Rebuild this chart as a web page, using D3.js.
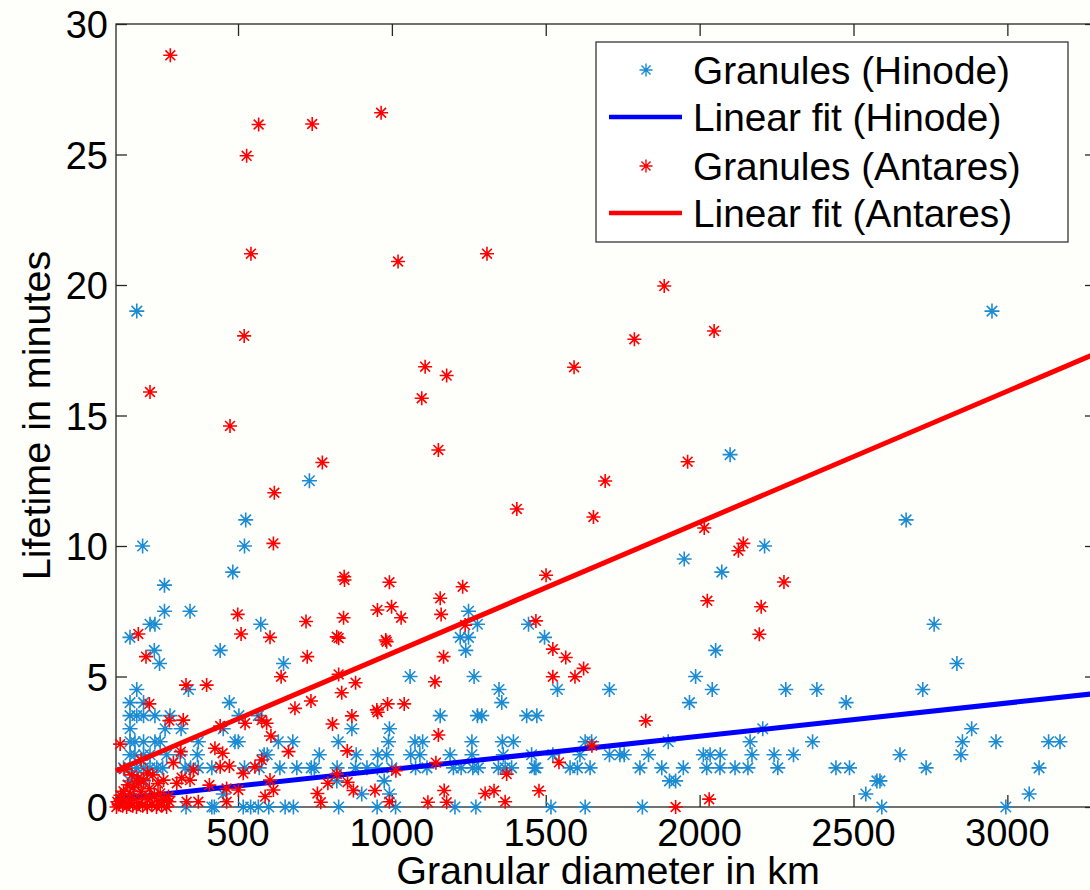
<!DOCTYPE html>
<meta charset="utf-8">
<style>
body { margin: 0; background: #fefefb; }
svg text { font-family: "Liberation Sans", Arial, sans-serif; fill: #000; }
</style>
<body>
<svg id="chart" width="1090" height="890"></svg>
<script src="https://d3js.org/d3.v7.min.js"></script>
<script>
// Hinode granules [diameter km, lifetime min]
var hinodePoints = [
  [171,19],[2950,19],[2099,13.5],[732,12.5],[2671,11],[525,11],[521,10],[190,10],[2211,10],[1950,9.5],
  [483,9],[2072,9],[261,8.5],[261,7.5],[344,7.5],[1249,7.5],[214,7],[230,7],[574,7],[1278,7],[1444,7],
  [2762,7],[149,6.5],[1222,6.5],[1249,6.5],[1496,6.5],[228,6],[442,6],[1240,6],[2052,6],[245,5.5],
  [648,5.5],[2836,5.5],[1059,5],[1267,5],[1987,5],
  [171,4.5],[339,4.5],[1348,4.5],[1538,4.5],[1707,4.5],[2041,4.5],[2280,4.5],[2381,4.5],[2725,4.5],
  [149,4],[193,4],[472,4],[1357,4],[1967,4],[2476,4],
  [149,3.5],[171,3.5],[193,3.5],[230,3.5],[279,3.5],[503,3.5],[566,3.5],[1157,3.5],[1278,3.5],[1292,3.5],
  [1438,3.5],[1471,3.5],
  [149,3],[263,3],[315,3],[452,3],[870,3],[992,3],[2205,3],[2884,3],
  [149,2.5],[165,2.5],[193,2.5],[230,2.5],[247,2.5],[371,2.5],[490,2.5],[501,2.5],[631,2.5],[678,2.5],
  [826,2.5],[989,2.5],[1075,2.5],[1100,2.5],[1260,2.5],[1359,2.5],[1395,2.5],[1628,2.5],[1649,2.5],
  [1898,2.5],[2164,2.5],[2367,2.5],[2854,2.5],[2963,2.5],[3134,2.5],[3171,2.5],
  [149,2],[165,2],[193,2],[214,2],[268,2],[312,2],[368,2],[585,2],[595,2],[764,2],[884,2],[954,2],
  [983,2],[1061,2],[1091,2],[1189,2],[1260,2],[1362,2],[1454,2],[1523,2],[1611,2],[1707,2],[1741,2],
  [1755,2],[1834,2],[2012,2],[2034,2],[2067,2],[2170,2],[2242,2],[2305,2],[2651,2],[2849,2],
  [128,1.5],[149,1.5],[171,1.5],[193,1.5],[214,1.5],[236,1.5],[255,1.5],[328,1.5],[346,1.5],[371,1.5],
  [415,1.5],[521,1.5],[569,1.5],[636,1.5],[691,1.5],[738,1.5],[748,1.5],[822,1.5],[882,1.5],[919,1.5],
  [953,1.5],[1000,1.5],[1077,1.5],[1114,1.5],[1200,1.5],[1225,1.5],[1263,1.5],[1281,1.5],[1346,1.5],
  [1368,1.5],[1389,1.5],[1463,1.5],[1468,1.5],[1579,1.5],[1603,1.5],[1644,1.5],[1806,1.5],[1877,1.5],
  [1947,1.5],[2023,1.5],[2066,1.5],[2115,1.5],[2157,1.5],[2254,1.5],[2443,1.5],[2487,1.5],[2736,1.5],
  [3103,1.5],
  [149,1],[171,1],[193,1],[821,1],[975,1],[1902,1],[1922,1],[2576,1],[2586,1],
  [149,0.5],[452,0.5],[902,0.5],[992,0.5],[2540,0.5],[3071,0.5],
  [331,0],[415,0],[423,0],[517,0],[541,0],[566,0],[600,0],[653,0],[680,0],[827,0],[952,0],[1012,0],
  [1205,0],[1273,0],[1517,0],[1628,0],[1814,0],[2592,0],[2995,0]
];

// Antares granules [diameter km, lifetime min]
var antaresPoints = [
  [280,28.8],[567,26.15],[741,26.17],[965,26.6],[528,24.95],[542,21.2],[1309,21.2],[1020,20.9],
  [1885,19.96],[2047,18.24],[520,18.05],[1788,17.92],[1108,16.87],[1592,16.85],[1178,16.53],[214,15.9],
  [1097,15.66],[474,14.6],[1151,13.68],[774,13.2],[1961,13.23],[1693,12.49],[618,12.04],[1406,11.42],
  [1655,11.11],[2015,10.69],[615,10.1],[2142,10.1],[2126,9.82],[1501,8.88],[845,8.82],[846,8.7],
  [2274,8.62],[992,8.61],[1230,8.44],[1157,8.0],[2025,7.9],[953,7.55],[999,7.67],[2200,7.67],
  [499,7.38],[1160,7.38],[843,7.25],[1030,7.25],[721,7.11],[1468,7.13],[1238,6.97],[176,6.63],
  [510,6.63],[2194,6.62],[604,6.5],[821,6.52],[827,6.47],[980,6.4],[983,6.33],[1523,6.05],[201,5.76],
  [725,5.76],[1168,5.76],[1565,5.73],[1623,5.31],[827,5.08],[640,4.99],[1523,4.99],[1595,4.99],
  [882,4.76],[1140,4.8],[331,4.67],[398,4.67],[837,4.38],[737,4.06],[212,3.95],[986,3.95],[1040,3.95],
  [685,3.78],[951,3.72],[954,3.63],[870,3.49],[277,3.31],[322,3.33],[577,3.33],[1825,3.3],[523,3.21],
  [593,3.21],[807,3.18],[442,3.1],[1151,2.76],[607,2.72],[117,2.41],[1650,2.35],[425,2.25],[855,2.15],
  [314,2.12],[664,2.12],[450,2.06],[577,1.8],[1143,1.7],[1543,1.71],[290,1.7],[442,1.54],[472,1.57],
  [555,1.54],[355,1.42],[1013,1.39],[517,1.29],[1373,1.26],[821,1.26],[223,1.23],[155,1.23],[317,1.12],
  [193,1.03],[258,1.03],[344,1.03],[604,1.03],[856,0.95],[792,0.91],[176,0.91],[301,0.91],[407,0.84],
  [463,0.71],[501,0.65],[615,0.65],[875,0.63],[945,0.63],[1170,0.63],[1332,0.62],[1478,0.62],
  [758,0.52],[1303,0.52],[247,0.52],[588,0.4],[274,0.4],[214,0.33],[2031,0.3],[769,0.18],[992,0.2],
  [1117,0.18],[1178,0.18],[1368,0.2],[371,0.2],[333,0.2],[463,0.2],[277,0.2],[1922,0],
  [105,0],[112,0.1],[120,0.3],[125,0.05],[132,0.2],[138,0],[145,0.15],[150,0.5],[158,0.05],[163,0.3],
  [170,0],[178,0.15],[185,0.6],[190,0.05],[198,0.35],[205,0],[212,0.7],[220,0.1],[228,0.45],[235,0],
  [243,0.2],[252,0.05],[260,0.25],[268,0],[128,0.6],[142,0.85],[160,0.75],[118,0.45],[175,1.1],
  [205,1.3],[240,0.9],[130,1.45],[185,1.8],[108,0.2]
];

// linear fits, values at the ends of the x range
var fitX = [103.5, 3288];
var hinodeFitY = [0.3, 4.35];
var antaresFitY = [1.39, 17.38];

var xTicks = [500, 1000, 1500, 2000, 2500, 3000];
var yTicks = [0, 5, 10, 15, 20, 25, 30];

var legendLabels = ["Granules (Hinode)", "Linear fit (Hinode)", "Granules (Antares)", "Linear fit (Antares)"];

var blueMark = "#1b8bd3", redMark = "#ff0000";

var svg = d3.select("#chart");
var pL = 116, pR = 1096, pT = 24, pB = 807;

var x = d3.scaleLinear().domain([103.5, 3288]).range([pL, pR]);
var y = d3.scaleLinear().domain([0, 30]).range([pB, pT]);

function asterisk(r) {
  var d = r * 0.7;
  return "M" + (-r) + ",0H" + r + "M0," + (-r) + "V" + r +
    "M" + (-d) + "," + (-d) + "L" + d + "," + d + "M" + (-d) + "," + d + "L" + d + "," + (-d);
}

var plot = svg.append("g");
var axisColor = "#262626";

function styleTicks(g) {
  g.select(".domain").remove();
  g.selectAll("line").attr("stroke", axisColor).attr("stroke-width", 1.3);
}

// axes box with inward ticks
plot.append("rect")
  .attr("x", pL).attr("y", pT)
  .attr("width", pR - pL).attr("height", pB - pT)
  .attr("fill", "none").attr("stroke", axisColor).attr("stroke-width", 1.3);

plot.append("g")
  .attr("transform", "translate(0," + pB + ")")
  .call(d3.axisBottom(x).tickValues(xTicks).tickSizeInner(-12).tickSizeOuter(0).tickFormat(""))
  .call(styleTicks);
plot.append("g")
  .attr("transform", "translate(0," + pT + ")")
  .call(d3.axisTop(x).tickValues(xTicks).tickSizeInner(-12).tickSizeOuter(0).tickFormat(""))
  .call(styleTicks);
plot.append("g")
  .attr("transform", "translate(" + pL + ",0)")
  .call(d3.axisLeft(y).tickValues(yTicks).tickSizeInner(-11).tickSizeOuter(0).tickFormat(""))
  .call(styleTicks);
plot.append("g")
  .attr("transform", "translate(" + pR + ",0)")
  .call(d3.axisRight(y).tickValues(yTicks).tickSizeInner(-11).tickSizeOuter(0).tickFormat(""))
  .call(styleTicks);

// tick labels
svg.append("g").selectAll("text")
  .data(xTicks).enter().append("text")
  .attr("x", function(d) { return x(d); })
  .attr("y", 846)
  .attr("text-anchor", "middle")
  .style("font-size", "38px")
  .text(function(d) { return d; });

svg.append("g").selectAll("text")
  .data(yTicks).enter().append("text")
  .attr("x", 108)
  .attr("y", function(d) { return y(d) + 14; })
  .attr("text-anchor", "end")
  .style("font-size", "38px")
  .text(function(d) { return d; });

// axis titles
svg.append("text")
  .attr("x", 608).attr("y", 884)
  .attr("text-anchor", "middle")
  .style("font-size", "39.5px")
  .text("Granular diameter in km");

svg.append("text")
  .attr("transform", "translate(50," + (pT + pB) / 2 + ") rotate(-90)")
  .attr("text-anchor", "middle")
  .style("font-size", "39.5px")
  .text("Lifetime in minutes");

// data
var line = d3.line().x(function(d) { return x(d[0]); }).y(function(d) { return y(d[1]); });

plot.append("g").selectAll("path")
  .data(hinodePoints).enter().append("path")
  .attr("transform", function(d) { return "translate(" + x(d[0]) + "," + y(d[1]) + ")"; })
  .attr("d", asterisk(7.5))
  .attr("fill", "none").attr("stroke", blueMark).attr("stroke-width", 1.6);

plot.append("path")
  .datum(fitX.map(function(v, i) { return [v, hinodeFitY[i]]; }))
  .attr("d", line)
  .attr("fill", "none").attr("stroke", "#0000ff").attr("stroke-width", 5);

plot.append("g").selectAll("path")
  .data(antaresPoints).enter().append("path")
  .attr("transform", function(d) { return "translate(" + x(d[0]) + "," + y(d[1]) + ")"; })
  .attr("d", asterisk(7))
  .attr("fill", "none").attr("stroke", redMark).attr("stroke-width", 1.6);

plot.append("path")
  .datum(fitX.map(function(v, i) { return [v, antaresFitY[i]]; }))
  .attr("d", line)
  .attr("fill", "none").attr("stroke", "#ff0000").attr("stroke-width", 5);

// legend
var lg = svg.append("g");
lg.append("rect")
  .attr("x", 596).attr("y", 42).attr("width", 472).attr("height", 200)
  .attr("fill", "#ffffff").attr("stroke", axisColor).attr("stroke-width", 1.2);

var rowY = [70, 117, 166, 213];
var legendColors = [blueMark, "#0000ff", redMark, "#ff0000"];
legendLabels.forEach(function(label, i) {
  if (i % 2 === 0) {
    lg.append("path")
      .attr("transform", "translate(646," + rowY[i] + ")")
      .attr("d", asterisk(6.5))
      .attr("fill", "none").attr("stroke", legendColors[i]).attr("stroke-width", 1.4);
  } else {
    lg.append("line")
      .attr("x1", 609).attr("x2", 682)
      .attr("y1", rowY[i]).attr("y2", rowY[i])
      .attr("stroke", legendColors[i]).attr("stroke-width", 4.5);
  }
  lg.append("text")
    .attr("x", 693).attr("y", rowY[i] + 14)
    .style("font-size", "38.8px")
    .text(label);
});
</script>
</body>
